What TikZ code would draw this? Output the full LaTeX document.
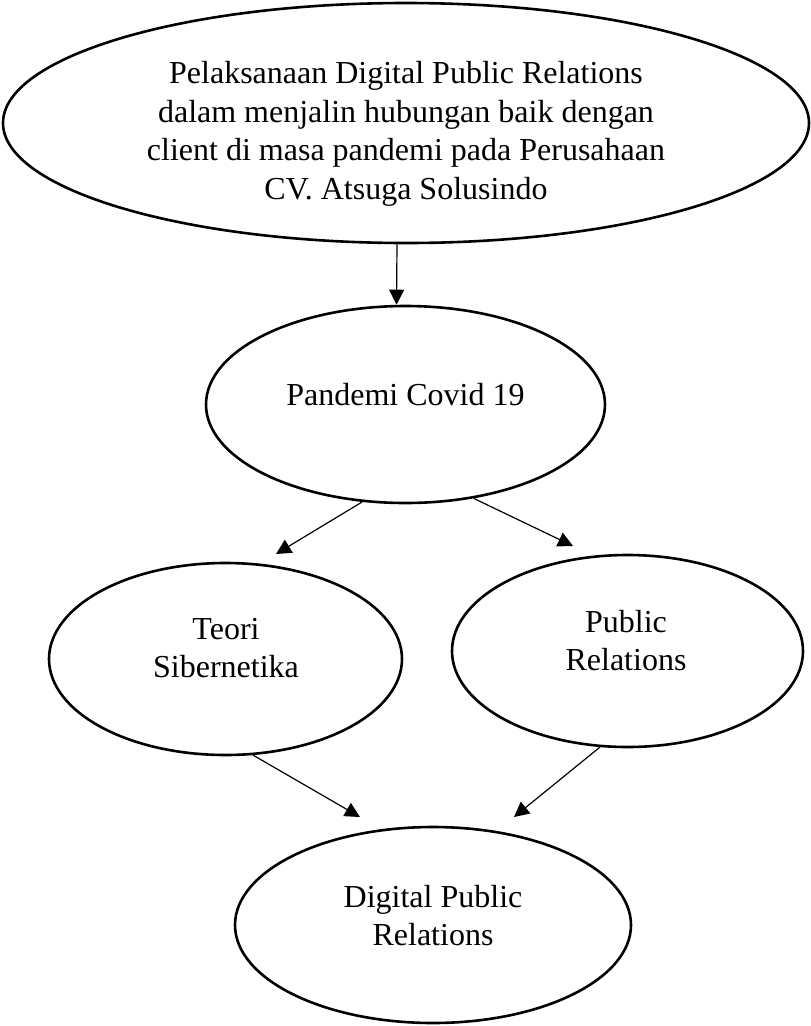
\documentclass[tikz,border=0pt]{standalone}
\usepackage{fontspec}
\setmainfont{Liberation Serif}
\usetikzlibrary{shapes.geometric,arrows.meta}
\begin{document}
\begin{tikzpicture}[x=1pt,y=-1pt,
  oval/.style={draw,ellipse,line width=2.6pt,inner sep=0pt},
  lbl/.style={align=center,font=\fontsize{32}{38.5}\selectfont,inner sep=0pt},
  arr/.style={line width=1.2pt,-{Triangle[length=15pt,width=15pt]}}]
\useasboundingbox (0,0) rectangle (811,1026);
\node[oval,minimum width=806pt,minimum height=240pt] (top) at (406,123) {};
\node[oval,minimum width=399pt,minimum height=197pt] (pan) at (405.5,404.5) {};
\node[oval,minimum width=353pt,minimum height=192pt] (teo) at (225.5,659) {};
\node[oval,minimum width=351pt,minimum height=192pt] (pr) at (627.5,651) {};
\node[oval,minimum width=396pt,minimum height=196pt] (dpr) at (433,925) {};
\node[lbl] (toptxt) at (406,134) {Pelaksanaan Digital Public Relations\\dalam menjalin hubungan baik dengan\\client di masa pandemi pada Perusahaan\\CV. Atsuga Solusindo};
\node[lbl,anchor=base] (pantxt) at (405.5,405) {Pandemi Covid 19};
\node[lbl] (teotxt) at (226,648) {Teori\\Sibernetika};
\node[lbl] (prtxt) at (626,640.5) {Public\\Relations};
\node[lbl] (dprtxt) at (433,915.5) {Digital Public\\Relations};
\coordinate (t1) at (276,554);
\coordinate (t2) at (573,546);
\coordinate (t3) at (360,817);
\coordinate (t4) at (514,817);
\draw[arr] ([xshift=-9pt]top.south) -- ([xshift=-9pt]pan.north);
\draw[arr] (pan.246) -- (t1);
\draw[arr] (pan.306) -- (t2);
\draw[arr] (teo.286) -- (t3);
\draw[arr] (pr.254) -- (t4);
\end{tikzpicture}
\end{document}
